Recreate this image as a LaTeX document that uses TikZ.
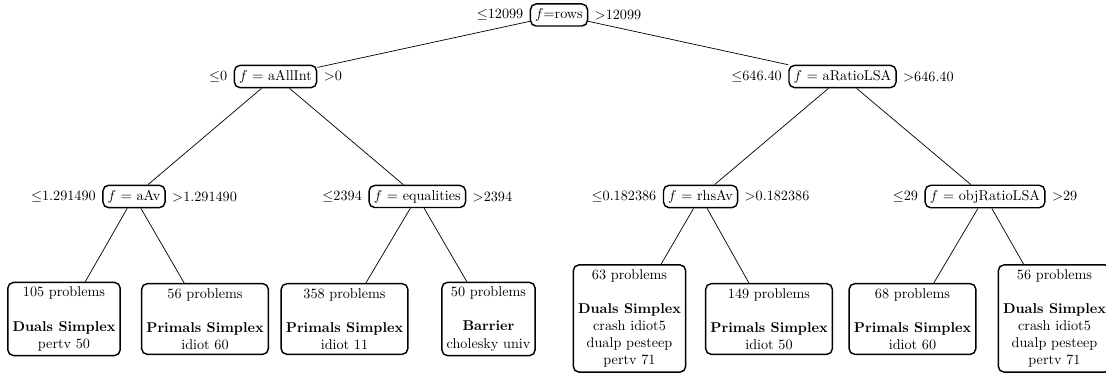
\documentclass[tikz,border=0pt]{standalone}
\begin{document}
\begin{tikzpicture}[x=0.7042pt,y=-0.7042pt,
  decision/.style={draw,rounded corners=4pt,line width=1pt,inner sep=3.33pt},
  leafbox/.style={draw,rounded corners=4pt,line width=1pt,align=center,inner sep=3.33pt},
  edge/.style={line width=0.5pt},
  lab/.style={label distance=1pt}]
\clip (0,0) rectangle (1106,374);
% decision nodes
\node[decision,label={[lab]left:$\leq$12099},label={[lab]right:$>$12099}] (root) at (559,15) {$f$=rows};
\node[decision,label={[lab]left:$\leq$0},label={[lab]right:$>$0}] (alli) at (275.5,76.5) {$f$ = aAllInt\ };
\node[decision,label={[lab]left:$\leq$646.40},label={[lab]right:$>$646.40}] (arat) at (842.5,76.5) {$f$ = aRatioLSA\ };
\node[decision,label={[lab]left:$\leq$1.291490},label={[lab]right:$>$1.291490}] (aav) at (134,196.5) {$f$ = aAv\ };
\node[decision,label={[lab]left:$\leq$2394},label={[lab]right:$>$2394}] (equ) at (417.3,196.5) {$f$ = equalities\ };
\node[decision,label={[lab]left:$\leq$0.182386},label={[lab]right:$>$0.182386}] (rhs) at (700.5,196.5) {$f$ = rhsAv};
\node[decision,label={[lab]left:$\leq$29},label={[lab]right:$>$29}] (obj) at (985,196.5) {$f$ = objRatioLSA};
% leaves
\node[leafbox] (l1) at (64,319) {105 problems\\[12pt]\textbf{Duals Simplex}\\pertv 50};
\node[leafbox] (l2) at (205,319) {56 problems\\[12pt]\textbf{Primals Simplex}\\idiot 60};
\node[leafbox] (l3) at (344.5,319) {358 problems\\[12pt]\textbf{Primals Simplex}\\idiot 11};
\node[leafbox] (l4) at (488.5,319) {50 problems\\[12pt]\textbf{Barrier}\\cholesky univ};
\node[leafbox] (l5) at (629.5,318.5) {63 problems\\[12pt]\textbf{Duals Simplex}\\crash idiot5\\dualp pesteep\\pertv 71};
\node[leafbox] (l6) at (769,319) {149 problems\\[12pt]\textbf{Primals Simplex}\\idiot 50};
\node[leafbox] (l7) at (912.5,319) {68 problems\\[12pt]\textbf{Primals Simplex}\\idiot 60};
\node[leafbox] (l8) at (1054.5,318.5) {56 problems\\[12pt]\textbf{Duals Simplex}\\crash idiot5\\dualp pesteep\\pertv 71};
% edges
\draw[edge] (root) -- (alli);
\draw[edge] (root) -- (arat);
\draw[edge] (alli) -- (aav);
\draw[edge] (alli) -- (equ);
\draw[edge] (arat) -- (rhs);
\draw[edge] (arat) -- (obj);
\draw[edge] (aav) -- (l1);
\draw[edge] (aav) -- (l2);
\draw[edge] (equ) -- (l3);
\draw[edge] (equ) -- (l4);
\draw[edge] (rhs) -- (l5);
\draw[edge] (rhs) -- (l6);
\draw[edge] (obj) -- (l7);
\draw[edge] (obj) -- (l8);
\end{tikzpicture}
\end{document}
